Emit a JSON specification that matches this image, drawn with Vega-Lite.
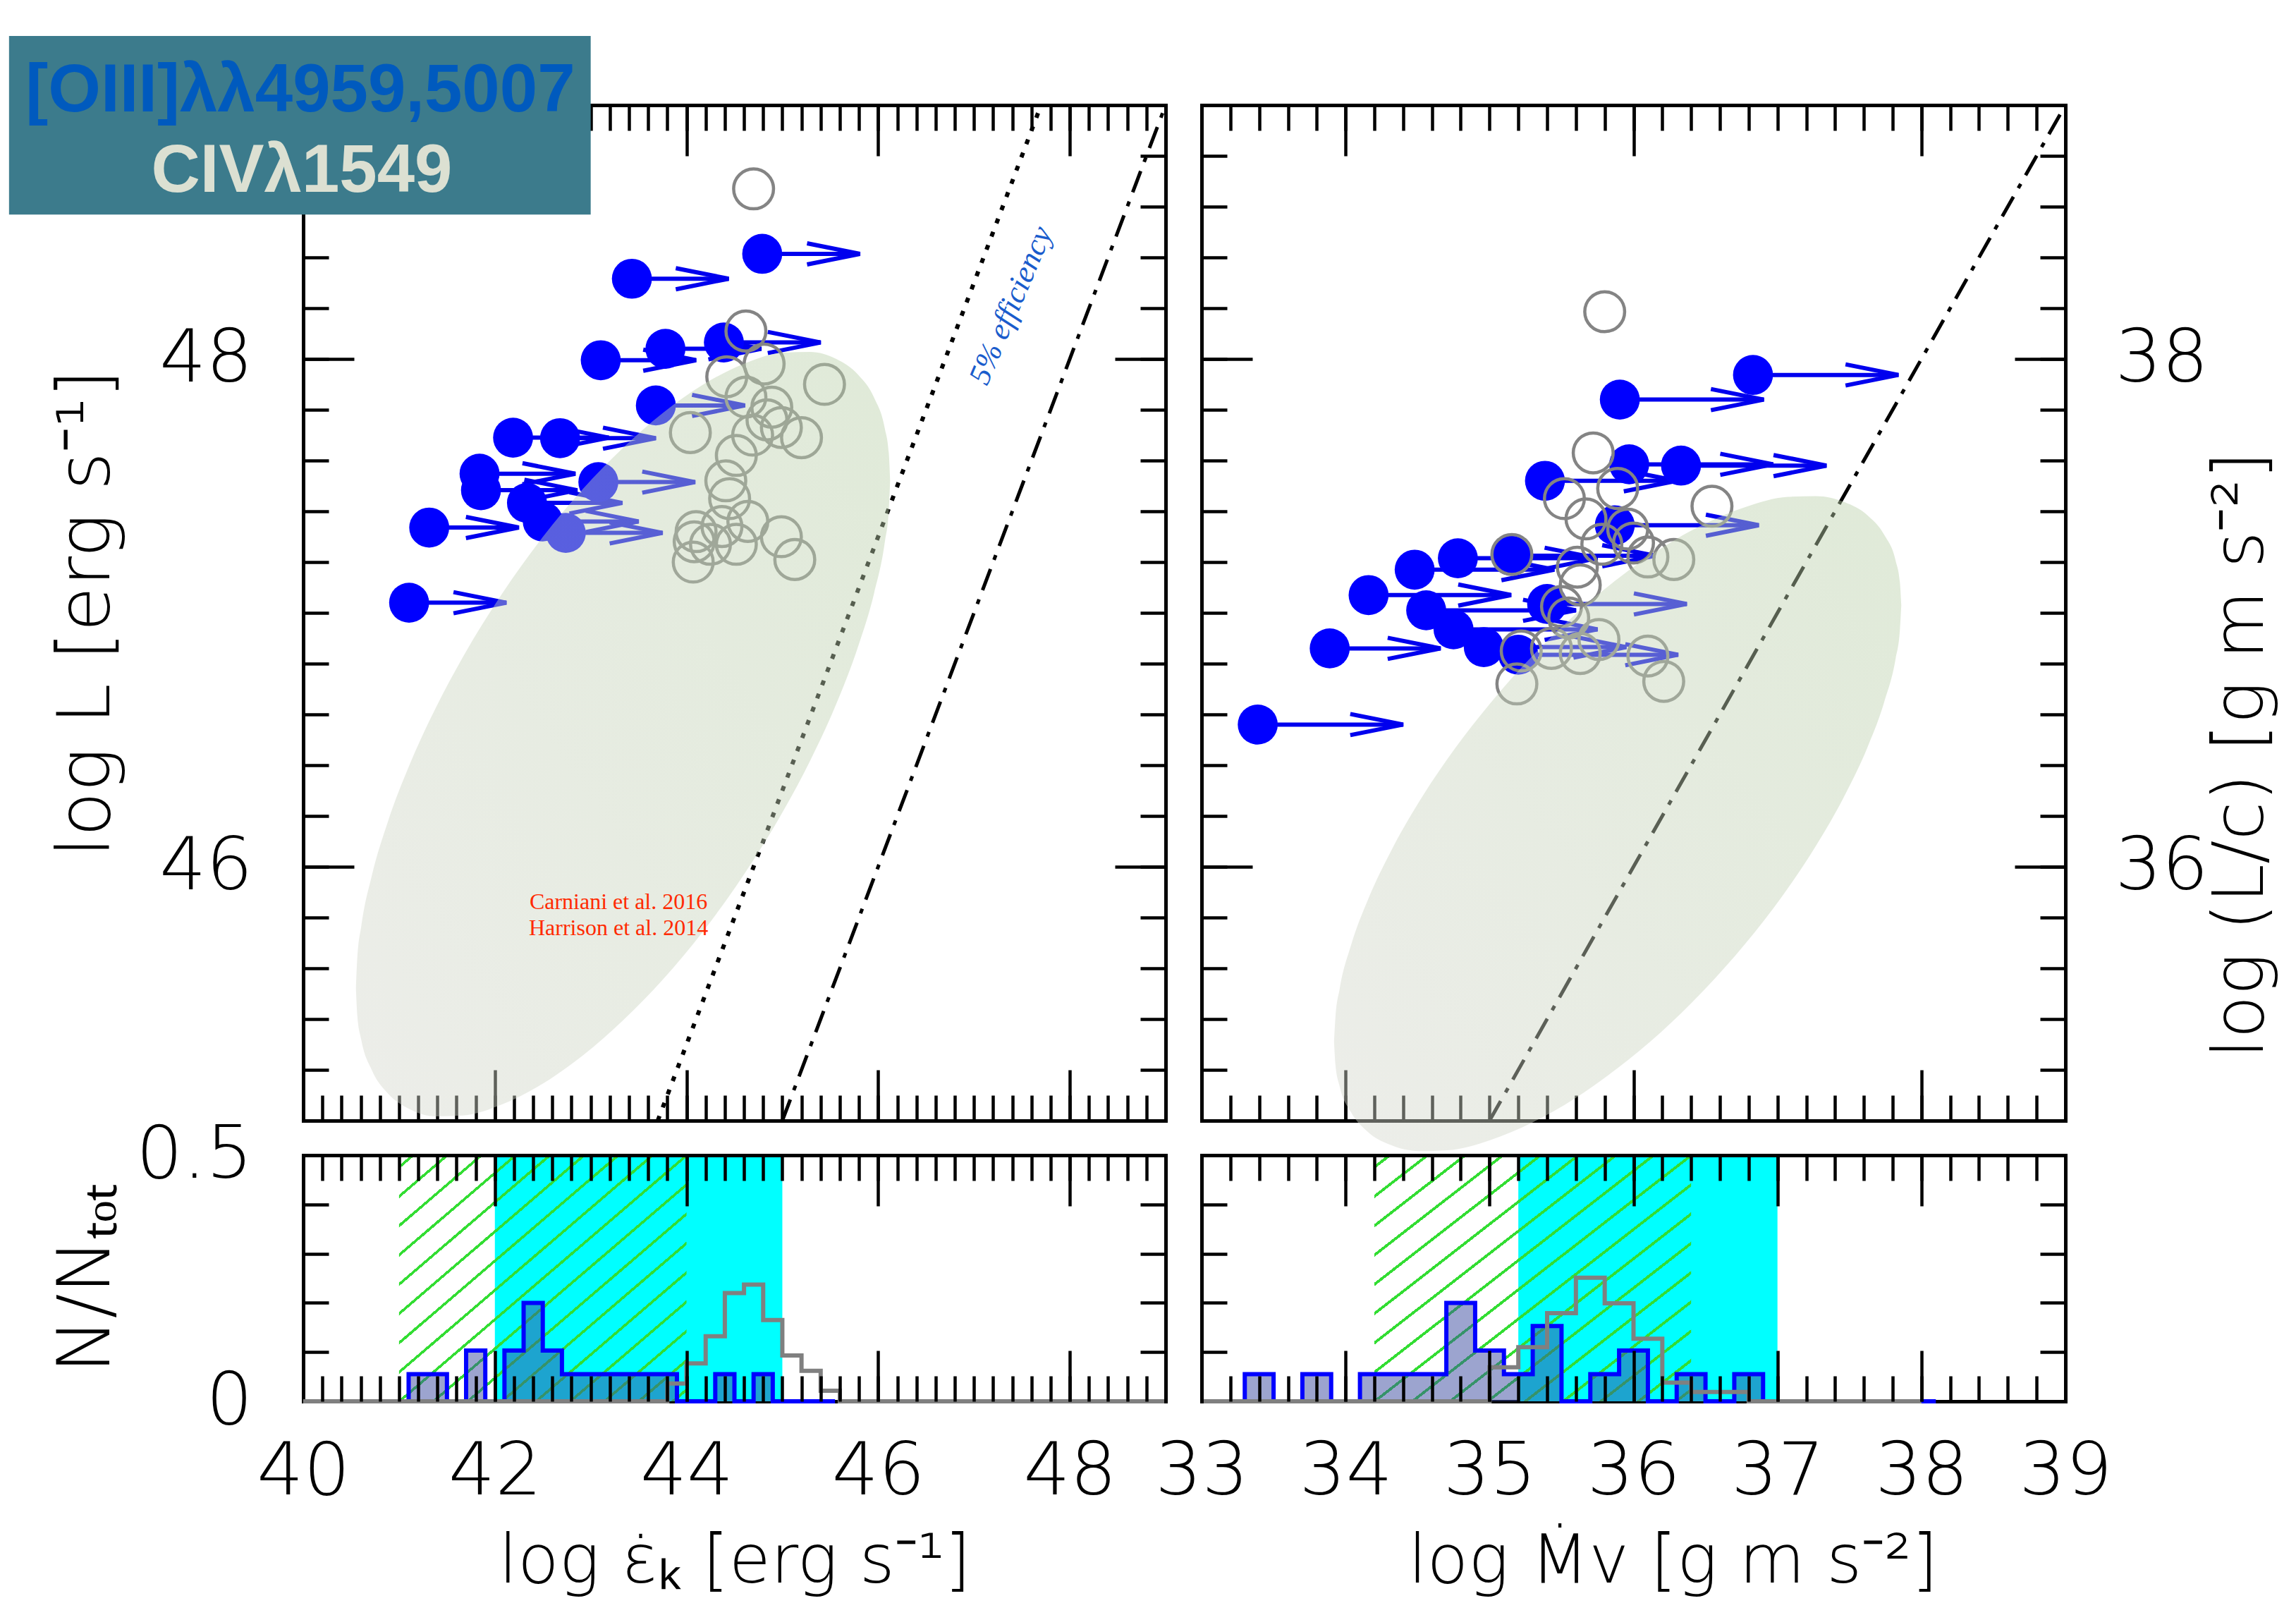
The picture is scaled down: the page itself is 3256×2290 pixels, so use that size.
{
"$schema": "https://vega.github.io/schema/vega-lite/v6.json",
"background": "white",
"padding": {"left": 12, "top": 51, "right": 16, "bottom": 16},
"bounds": "flush",
"columns": 2,
"spacing": {"row": 49, "column": 51},
"config": {
  "view": {"stroke": null},
  "axis": {
    "grid": false, "domainColor": "#000000", "domainWidth": 5, "domainCap": "square",
    "tickColor": "#000000", "tickWidth": 4.5,
    "labelFont": "DejaVu Sans", "labelFontWeight": 200, "labelFontSize": 104, "labelColor": "#000000",
    "labelFlush": false, "labelOverlap": false, "labelBound": false, "labelAngle": 0,
    "titleFont": "DejaVu Sans", "titleFontWeight": 200, "titleFontSize": 104, "titleColor": "#000000"
  }
},
"datasets": {
  "arrowsTL": [
    {"x":43.43,"y":48.316,"x2":44.44},{"x":44.79,"y":48.414,"x2":45.81},{"x":43.105,"y":47.995,"x2":44.1},
    {"x":43.78,"y":48.04,"x2":44.78},{"x":44.39,"y":48.065,"x2":45.4},{"x":43.68,"y":47.817,"x2":44.61},
    {"x":42.19,"y":47.69,"x2":43.19},{"x":42.68,"y":47.688,"x2":43.68},{"x":41.84,"y":47.548,"x2":42.84},
    {"x":41.855,"y":47.483,"x2":42.86},{"x":43.08,"y":47.515,"x2":44.09},{"x":42.335,"y":47.433,"x2":43.33},
    {"x":42.5,"y":47.36,"x2":43.5},{"x":42.74,"y":47.315,"x2":43.75},{"x":41.315,"y":47.336,"x2":42.25},
    {"x":41.105,"y":47.04,"x2":42.12}
  ],
  "greyTL": [
    {"x":44.70,"y":48.67},{"x":44.62,"y":48.11},{"x":44.81,"y":47.98},{"x":44.42,"y":47.93},{"x":45.44,"y":47.90},
    {"x":44.62,"y":47.85},{"x":44.89,"y":47.81},{"x":44.84,"y":47.76},{"x":44.99,"y":47.73},{"x":45.20,"y":47.69},
    {"x":44.04,"y":47.71},{"x":44.69,"y":47.70},{"x":44.52,"y":47.62},{"x":44.41,"y":47.52},{"x":44.45,"y":47.45},
    {"x":44.10,"y":47.32},{"x":44.37,"y":47.34},{"x":44.64,"y":47.36},{"x":44.99,"y":47.30},{"x":45.13,"y":47.21},
    {"x":44.07,"y":47.20},{"x":44.52,"y":47.27},{"x":44.25,"y":47.27},{"x":44.08,"y":47.28}
  ],
  "ellTL": [
    {"x":40.55,"y":45.52,"y2":45.52},{"x":40.564,"y":45.64,"y2":45.415},{"x":40.606,"y":45.767,"y2":45.318},
    {"x":40.717,"y":45.967,"y2":45.198},{"x":40.884,"y":46.178,"y2":45.107},{"x":41.107,"y":46.399,"y2":45.046},
    {"x":41.386,"y":46.628,"y2":45.017},{"x":41.665,"y":46.825,"y2":45.02},{"x":42.083,"y":47.08,"y2":45.065},
    {"x":42.501,"y":47.299,"y2":45.146},{"x":42.919,"y":47.488,"y2":45.257},{"x":43.338,"y":47.65,"y2":45.395},
    {"x":43.756,"y":47.788,"y2":45.557},{"x":44.174,"y":47.899,"y2":45.746},{"x":44.592,"y":47.98,"y2":45.965},
    {"x":45.01,"y":48.025,"y2":46.22},{"x":45.289,"y":48.028,"y2":46.417},{"x":45.567,"y":47.999,"y2":46.645},
    {"x":45.79,"y":47.938,"y2":46.867},{"x":45.958,"y":47.847,"y2":47.078},{"x":46.069,"y":47.727,"y2":47.278},
    {"x":46.111,"y":47.63,"y2":47.405},{"x":46.125,"y":47.52,"y2":47.52}
  ],
  "arrowsTR": [
    {"x":36.83,"y":37.937,"x2":37.84},{"x":35.905,"y":37.84,"x2":36.905},{"x":36.33,"y":37.58,"x2":37.34},
    {"x":35.97,"y":37.585,"x2":36.97},{"x":35.385,"y":37.52,"x2":36.3},{"x":35.87,"y":37.345,"x2":36.87},
    {"x":34.78,"y":37.215,"x2":35.75},{"x":34.48,"y":37.17,"x2":35.45},{"x":34.16,"y":37.07,"x2":35.15},
    {"x":34.56,"y":37.01,"x2":35.6},{"x":35.15,"y":37.225,"x2":36.15},{"x":35.4,"y":37.035,"x2":36.37},
    {"x":34.75,"y":36.935,"x2":35.75},{"x":34.96,"y":36.865,"x2":35.95},{"x":35.2,"y":36.835,"x2":36.31},
    {"x":33.89,"y":36.86,"x2":34.66},{"x":33.39,"y":36.56,"x2":34.4}
  ],
  "greyTR": [
    {"x":35.80,"y":38.186},{"x":35.72,"y":37.63},{"x":35.52,"y":37.45},{"x":35.89,"y":37.49},{"x":35.67,"y":37.37},
    {"x":35.155,"y":37.23},{"x":35.96,"y":37.33},{"x":36.0,"y":37.275},{"x":35.78,"y":37.27},{"x":35.61,"y":37.18},
    {"x":35.63,"y":37.11},{"x":35.50,"y":37.025},{"x":35.55,"y":36.98},{"x":35.76,"y":36.895},{"x":35.63,"y":36.84},
    {"x":35.22,"y":36.85},{"x":35.43,"y":36.86},{"x":35.19,"y":36.72},{"x":36.10,"y":36.83},{"x":36.21,"y":36.73},
    {"x":36.10,"y":37.22},{"x":36.545,"y":37.42},{"x":36.28,"y":37.21}
  ],
  "ellTR": [
    {"x":33.92,"y":35.31,"y2":35.31},{"x":33.93,"y":35.41,"y2":35.218},{"x":33.959,"y":35.519,"y2":35.135},
    {"x":34.038,"y":35.691,"y2":35.033},{"x":34.156,"y":35.871,"y2":34.955},{"x":34.314,"y":36.06,"y2":34.904},
    {"x":34.511,"y":36.256,"y2":34.88},{"x":34.708,"y":36.425,"y2":34.883},{"x":35.004,"y":36.643,"y2":34.923},
    {"x":35.299,"y":36.831,"y2":34.993},{"x":35.595,"y":36.994,"y2":35.088},{"x":35.89,"y":37.134,"y2":35.207},
    {"x":36.186,"y":37.252,"y2":35.346},{"x":36.481,"y":37.347,"y2":35.509},{"x":36.777,"y":37.417,"y2":35.697},
    {"x":37.072,"y":37.457,"y2":35.915},{"x":37.269,"y":37.46,"y2":36.084},{"x":37.466,"y":37.436,"y2":36.28},
    {"x":37.624,"y":37.385,"y2":36.469},{"x":37.742,"y":37.307,"y2":36.65},{"x":37.821,"y":37.205,"y2":36.821},
    {"x":37.85,"y":37.122,"y2":36.93},{"x":37.86,"y":37.03,"y2":37.03}
  ],
  "histBLblue": [
    {"x":41.1,"y":0},{"x":41.1,"y":0.055},{"x":41.5,"y":0},{"x":41.7,"y":0.103},{"x":41.9,"y":0},
    {"x":42.1,"y":0.103},{"x":42.3,"y":0.2},{"x":42.5,"y":0.103},{"x":42.7,"y":0.055},{"x":43.9,"y":0},
    {"x":44.3,"y":0.055},{"x":44.5,"y":0},{"x":44.7,"y":0.055},{"x":44.9,"y":0},{"x":45.55,"y":0}
  ],
  "histBLgrey": [
    {"x":40,"y":0},{"x":43.8,"y":0.036},{"x":44.0,"y":0.077},{"x":44.2,"y":0.132},{"x":44.4,"y":0.22},
    {"x":44.6,"y":0.237},{"x":44.8,"y":0.165},{"x":45.0,"y":0.093},{"x":45.2,"y":0.062},{"x":45.4,"y":0.0215},
    {"x":45.6,"y":0},{"x":49,"y":0}
  ],
  "histBRblue": [
    {"x":33.3,"y":0},{"x":33.3,"y":0.055},{"x":33.5,"y":0},{"x":33.7,"y":0.055},{"x":33.9,"y":0},
    {"x":34.1,"y":0.055},{"x":34.7,"y":0.2},{"x":34.9,"y":0.103},{"x":35.1,"y":0.055},{"x":35.3,"y":0.153},
    {"x":35.5,"y":0},{"x":35.7,"y":0.055},{"x":35.9,"y":0.103},{"x":36.1,"y":0},{"x":36.3,"y":0.055},
    {"x":36.5,"y":0},{"x":36.7,"y":0.055},{"x":36.9,"y":0},{"x":38.1,"y":0}
  ],
  "histBRgrey": [
    {"x":33,"y":0},{"x":35.0,"y":0.069},{"x":35.2,"y":0.11},{"x":35.4,"y":0.179},{"x":35.6,"y":0.251},
    {"x":35.8,"y":0.199},{"x":36.0,"y":0.127},{"x":36.2,"y":0.038},{"x":36.4,"y":0.019},{"x":36.8,"y":0},
    {"x":38.0,"y":0}
  ]
},
"concat": [
{
  "width": 1223, "height": 1440,
  "resolve": {"axis": {"x": "independent", "y": "independent"}},
  "encoding": {
    "x": {"field":"x","type":"quantitative","scale":{"domain":[40,49],"nice":false,"zero":false},"axis":null},
    "y": {"field":"y","type":"quantitative","scale":{"domain":[45,49],"nice":false,"zero":false},"axis":null}
  },
  "layer": [
    {"data":{"values":[{"x":45,"y":45},{"x":49,"y":49}]},
     "mark":{"type":"line","color":"#000000","strokeWidth":5,"strokeDash":[32,14,7,14]},
     "encoding":{
       "x":{"field":"x","type":"quantitative","scale":{"domain":[40,49],"nice":false,"zero":false},
            "axis":{"orient":"bottom","values":[42,44,46,48],"tickSize":-72,"labels":false,"domain":true,"title":null}},
       "y":{"field":"y","type":"quantitative","scale":{"domain":[45,49],"nice":false,"zero":false},
            "axis":{"orient":"left","values":[46,48],"ticks":false,"tickSize":0,"labelPadding":72,"domain":true,"format":"~g",
                    "title":"log L [erg s⁻¹]","titleAngle":270,"titleBaseline":"bottom","titleX":-254}}}},
    {"data":{"values":[{"x":43.7,"y":45},{"x":47.7,"y":49}]},
     "mark":{"type":"line","color":"#000000","strokeWidth":6,"strokeDash":[7,13]},
     "encoding":{
       "x":{"field":"x","type":"quantitative","scale":{"domain":[40,49],"nice":false,"zero":false},
            "axis":{"orient":"bottom","values":[40.2,40.4,40.6,40.8,41,41.2,41.4,41.6,41.8,42,42.2,42.4,42.6,42.8,43,43.2,43.4,43.6,43.8,44,44.2,44.4,44.6,44.8,45,45.2,45.4,45.6,45.8,46,46.2,46.4,46.6,46.8,47,47.2,47.4,47.6,47.8,48,48.2,48.4,48.6,48.8],"tickSize":-36,"labels":false,"domain":false,"title":null}},
       "y":{"field":"y","type":"quantitative","scale":{"domain":[45,49],"nice":false,"zero":false},
            "axis":{"orient":"left","values":[46,48],"tickSize":-72,"labels":false,"domain":false,"title":null}}}},
    {"data":{"name":"arrowsTL"},
     "mark":{"type":"rule","color":"#0000ee","strokeWidth":6},
     "encoding":{
       "x":{"field":"x","type":"quantitative","scale":{"domain":[40,49],"nice":false,"zero":false},
            "axis":{"orient":"top","values":[42,44,46,48],"tickSize":-72,"labels":false,"domain":true,"title":null}},
       "x2":{"field":"x2"},
       "y":{"field":"y","type":"quantitative","scale":{"domain":[45,49],"nice":false,"zero":false},
            "axis":{"orient":"left","values":[45.2,45.4,45.6,45.8,46,46.2,46.4,46.6,46.8,47,47.2,47.4,47.6,47.8,48,48.2,48.4,48.6,48.8],"tickSize":-36,"labels":false,"domain":false,"title":null}}}},
    {"data":{"name":"arrowsTL"},
     "mark":{"type":"point","shape":"M-2,-0.4L0,0L-2,0.4","size":5625,"filled":false,"color":"#0000ee","strokeWidth":6,"opacity":1},
     "encoding":{
       "x":{"field":"x2","type":"quantitative","scale":{"domain":[40,49],"nice":false,"zero":false},
            "axis":{"orient":"top","values":[40.2,40.4,40.6,40.8,41,41.2,41.4,41.6,41.8,42,42.2,42.4,42.6,42.8,43,43.2,43.4,43.6,43.8,44,44.2,44.4,44.6,44.8,45,45.2,45.4,45.6,45.8,46,46.2,46.4,46.6,46.8,47,47.2,47.4,47.6,47.8,48,48.2,48.4,48.6,48.8],"tickSize":-36,"labels":false,"domain":false,"title":null}},
       "y":{"field":"y","type":"quantitative","scale":{"domain":[45,49],"nice":false,"zero":false},
            "axis":{"orient":"right","values":[46,48],"tickSize":-72,"labels":false,"domain":true,"title":null}}}},
    {"data":{"name":"arrowsTL"},
     "mark":{"type":"point","shape":"circle","size":3217,"filled":true,"color":"#0000ff","opacity":1},
     "encoding":{
       "y":{"field":"y","type":"quantitative","scale":{"domain":[45,49],"nice":false,"zero":false},
            "axis":{"orient":"right","values":[45.2,45.4,45.6,45.8,46,46.2,46.4,46.6,46.8,47,47.2,47.4,47.6,47.8,48,48.2,48.4,48.6,48.8],"tickSize":-36,"labels":false,"domain":false,"title":null}}}},
    {"data":{"name":"greyTL"},
     "mark":{"type":"point","shape":"circle","size":3200,"filled":false,"color":"#848484","strokeWidth":4.5,"opacity":1},
     "encoding":{}},
    {"data":{"name":"ellTL"},
     "mark":{"type":"area","interpolate":"monotone","opacity":0.45,
             "color":{"gradient":"linear","x1":0,"y1":1,"x2":1,"y2":0,"stops":[{"offset":0,"color":"#d6d8cf"},{"offset":1,"color":"#b9d0a8"}]}},
     "encoding":{"y2":{"field":"y2"}}},
    {"data":{"values":[{"x":47.39,"y":48.21,"t":"5% efficiency"}]},
     "mark":{"type":"text","font":"Liberation Serif","fontStyle":"italic","fontSize":44,"color":"#1a5ccc","angle":293,"align":"center","baseline":"middle"},
     "encoding":{"text":{"field":"t"}}},
    {"data":{"values":[{"x":43.29,"y":45.833,"t":"Carniani et al. 2016"},{"x":43.29,"y":45.731,"t":"Harrison et al. 2014"}]},
     "mark":{"type":"text","font":"Liberation Serif","fontSize":32,"color":"#ff2a00","align":"center","baseline":"alphabetic"},
     "encoding":{"text":{"field":"t"}}},
    {"data":{"values":[{"x":36.93,"x2":43.0,"y":49.272,"y2":48.569}]},
     "mark":{"type":"rect","color":"#3c7b8c"},
     "encoding":{"x2":{"field":"x2"},"y2":{"field":"y2"}}},
    {"data":{"values":[{"x":39.97,"y":48.975,"t":"[OIII]λλ4959,5007"}]},
     "mark":{"type":"text","font":"Liberation Sans","fontWeight":"bold","fontSize":96,"color":"#005abe","align":"center","baseline":"alphabetic"},
     "encoding":{"text":{"field":"t"}}},
    {"data":{"values":[{"x":39.985,"y":48.658,"t":"CIVλ1549"}]},
     "mark":{"type":"text","font":"Liberation Sans","fontWeight":"bold","fontSize":96,"color":"#dce0d2","align":"center","baseline":"alphabetic"},
     "encoding":{"text":{"field":"t"}}}
  ]
},
{
  "width": 1225, "height": 1440,
  "resolve": {"axis": {"x": "independent", "y": "independent"}},
  "encoding": {
    "x": {"field":"x","type":"quantitative","scale":{"domain":[33,39],"nice":false,"zero":false},"axis":null},
    "y": {"field":"y","type":"quantitative","scale":{"domain":[35,39],"nice":false,"zero":false},"axis":null}
  },
  "layer": [
    {"data":{"values":[{"x":35,"y":35},{"x":39,"y":39}]},
     "mark":{"type":"line","color":"#000000","strokeWidth":5,"strokeDash":[32,14,7,14]},
     "encoding":{
       "x":{"field":"x","type":"quantitative","scale":{"domain":[33,39],"nice":false,"zero":false},
            "axis":{"orient":"bottom","values":[34,36,38],"tickSize":-72,"labels":false,"domain":true,"title":null}},
       "y":{"field":"y","type":"quantitative","scale":{"domain":[35,39],"nice":false,"zero":false},
            "axis":{"orient":"left","values":[36,38],"tickSize":-72,"labels":false,"domain":true,"title":null}}}},
    {"data":{"name":"arrowsTR"},
     "mark":{"type":"rule","color":"#0000ee","strokeWidth":6},
     "encoding":{
       "x":{"field":"x","type":"quantitative","scale":{"domain":[33,39],"nice":false,"zero":false},
            "axis":{"orient":"bottom","values":[33.2,33.4,33.6,33.8,34,34.2,34.4,34.6,34.8,35,35.2,35.4,35.6,35.8,36,36.2,36.4,36.6,36.8,37,37.2,37.4,37.6,37.8,38,38.2,38.4,38.6,38.8],"tickSize":-36,"labels":false,"domain":false,"title":null}},
       "x2":{"field":"x2"},
       "y":{"field":"y","type":"quantitative","scale":{"domain":[35,39],"nice":false,"zero":false},
            "axis":{"orient":"left","values":[35.2,35.4,35.6,35.8,36,36.2,36.4,36.6,36.8,37,37.2,37.4,37.6,37.8,38,38.2,38.4,38.6,38.8],"tickSize":-36,"labels":false,"domain":false,"title":null}}}},
    {"data":{"name":"arrowsTR"},
     "mark":{"type":"point","shape":"M-2,-0.4L0,0L-2,0.4","size":5625,"filled":false,"color":"#0000ee","strokeWidth":6,"opacity":1},
     "encoding":{
       "x":{"field":"x2","type":"quantitative","scale":{"domain":[33,39],"nice":false,"zero":false},
            "axis":{"orient":"top","values":[34,36,38],"tickSize":-72,"labels":false,"domain":true,"title":null}},
       "y":{"field":"y","type":"quantitative","scale":{"domain":[35,39],"nice":false,"zero":false},
            "axis":{"orient":"right","values":[36,38],"ticks":false,"tickSize":0,"labelPadding":70,"domain":true,"format":"~g",
                    "title":"log (L/c) [g m s⁻²]","titleAngle":270,"titleBaseline":"top","titleX":200,"titleY":921,"titleFontSize":100}}}},
    {"data":{"name":"arrowsTR"},
     "mark":{"type":"point","shape":"circle","size":3217,"filled":true,"color":"#0000ff","opacity":1},
     "encoding":{
       "x":{"field":"x","type":"quantitative","scale":{"domain":[33,39],"nice":false,"zero":false},
            "axis":{"orient":"top","values":[33.2,33.4,33.6,33.8,34,34.2,34.4,34.6,34.8,35,35.2,35.4,35.6,35.8,36,36.2,36.4,36.6,36.8,37,37.2,37.4,37.6,37.8,38,38.2,38.4,38.6,38.8],"tickSize":-36,"labels":false,"domain":false,"title":null}},
       "y":{"field":"y","type":"quantitative","scale":{"domain":[35,39],"nice":false,"zero":false},
            "axis":{"orient":"right","values":[36,38],"tickSize":-72,"labels":false,"domain":false,"title":null}}}},
    {"data":{"name":"greyTR"},
     "mark":{"type":"point","shape":"circle","size":3200,"filled":false,"color":"#848484","strokeWidth":4.5,"opacity":1},
     "encoding":{
       "y":{"field":"y","type":"quantitative","scale":{"domain":[35,39],"nice":false,"zero":false},
            "axis":{"orient":"right","values":[35.2,35.4,35.6,35.8,36,36.2,36.4,36.6,36.8,37,37.2,37.4,37.6,37.8,38,38.2,38.4,38.6,38.8],"tickSize":-36,"labels":false,"domain":false,"title":null}}}},
    {"data":{"name":"ellTR"},
     "mark":{"type":"area","interpolate":"monotone","opacity":0.45,
             "color":{"gradient":"linear","x1":0,"y1":1,"x2":1,"y2":0,"stops":[{"offset":0,"color":"#d6d8cf"},{"offset":1,"color":"#b9d0a8"}]}},
     "encoding":{"y2":{"field":"y2"}}}
  ]
},
{
  "width": 1223, "height": 349,
  "resolve": {"axis": {"x": "independent", "y": "independent"}},
  "encoding": {
    "x": {"field":"x","type":"quantitative","scale":{"domain":[40,49],"nice":false,"zero":false},"axis":null},
    "y": {"field":"y","type":"quantitative","scale":{"domain":[0,0.5],"nice":false,"zero":false},"axis":null}
  },
  "layer": [
    {"data":{"values":[{"x":42,"x2":45,"y":0,"y2":0.5}]},
     "mark":{"type":"rect","color":"#00ffff"},
     "encoding":{
       "x":{"field":"x","type":"quantitative","scale":{"domain":[40,49],"nice":false,"zero":false},
            "axis":{"orient":"bottom","values":[40,42,44,46,48],"ticks":false,"tickSize":0,"labelPadding":49,"domain":true,"format":"~g","zindex":0,
                    "title":"log ε̇ₖ [erg s⁻¹]","titleBaseline":"top","titleY":180,"titleFontSize":96}},
       "x2":{"field":"x2"},
       "y":{"field":"y","type":"quantitative","scale":{"domain":[0,0.5],"nice":false,"zero":false},
            "axis":{"orient":"left","values":[0,0.5],"ticks":false,"tickSize":0,"labelPadding":72,"domain":true,"format":"~g","zindex":0,
                    "title":"N/Nₜₒₜ","titleAngle":270,"titleBaseline":"bottom","titleX":-254}},
       "y2":{"field":"y2"}}},
    {"data":{"values":[{"x":41,"x2":44,"y":0,"y2":0.5}]},
     "mark":{"type":"rect","strokeWidth":0,
             "fill":{"gradient":"linear","x1":0,"y1":0,"x2":1,"y2":1,"stops":[
               {"offset":0,"color":"rgba(51,221,51,0)"},
               {"offset":0.021,"color":"rgba(51,221,51,0)"},{"offset":0.021,"color":"#33dd33"},{"offset":0.028,"color":"#33dd33"},{"offset":0.028,"color":"rgba(51,221,51,0)"},
               {"offset":0.0805,"color":"rgba(51,221,51,0)"},{"offset":0.0805,"color":"#33dd33"},{"offset":0.0875,"color":"#33dd33"},{"offset":0.0875,"color":"rgba(51,221,51,0)"},
               {"offset":0.140,"color":"rgba(51,221,51,0)"},{"offset":0.140,"color":"#33dd33"},{"offset":0.147,"color":"#33dd33"},{"offset":0.147,"color":"rgba(51,221,51,0)"},
               {"offset":0.1995,"color":"rgba(51,221,51,0)"},{"offset":0.1995,"color":"#33dd33"},{"offset":0.2065,"color":"#33dd33"},{"offset":0.2065,"color":"rgba(51,221,51,0)"},
               {"offset":0.259,"color":"rgba(51,221,51,0)"},{"offset":0.259,"color":"#33dd33"},{"offset":0.266,"color":"#33dd33"},{"offset":0.266,"color":"rgba(51,221,51,0)"},
               {"offset":0.3185,"color":"rgba(51,221,51,0)"},{"offset":0.3185,"color":"#33dd33"},{"offset":0.3255,"color":"#33dd33"},{"offset":0.3255,"color":"rgba(51,221,51,0)"},
               {"offset":0.378,"color":"rgba(51,221,51,0)"},{"offset":0.378,"color":"#33dd33"},{"offset":0.385,"color":"#33dd33"},{"offset":0.385,"color":"rgba(51,221,51,0)"},
               {"offset":0.4375,"color":"rgba(51,221,51,0)"},{"offset":0.4375,"color":"#33dd33"},{"offset":0.4445,"color":"#33dd33"},{"offset":0.4445,"color":"rgba(51,221,51,0)"},
               {"offset":0.497,"color":"rgba(51,221,51,0)"},{"offset":0.497,"color":"#33dd33"},{"offset":0.504,"color":"#33dd33"},{"offset":0.504,"color":"rgba(51,221,51,0)"},
               {"offset":0.5565,"color":"rgba(51,221,51,0)"},{"offset":0.5565,"color":"#33dd33"},{"offset":0.5635,"color":"#33dd33"},{"offset":0.5635,"color":"rgba(51,221,51,0)"},
               {"offset":0.616,"color":"rgba(51,221,51,0)"},{"offset":0.616,"color":"#33dd33"},{"offset":0.623,"color":"#33dd33"},{"offset":0.623,"color":"rgba(51,221,51,0)"},
               {"offset":0.6755,"color":"rgba(51,221,51,0)"},{"offset":0.6755,"color":"#33dd33"},{"offset":0.6825,"color":"#33dd33"},{"offset":0.6825,"color":"rgba(51,221,51,0)"},
               {"offset":0.735,"color":"rgba(51,221,51,0)"},{"offset":0.735,"color":"#33dd33"},{"offset":0.742,"color":"#33dd33"},{"offset":0.742,"color":"rgba(51,221,51,0)"},
               {"offset":0.7945,"color":"rgba(51,221,51,0)"},{"offset":0.7945,"color":"#33dd33"},{"offset":0.8015,"color":"#33dd33"},{"offset":0.8015,"color":"rgba(51,221,51,0)"},
               {"offset":0.854,"color":"rgba(51,221,51,0)"},{"offset":0.854,"color":"#33dd33"},{"offset":0.861,"color":"#33dd33"},{"offset":0.861,"color":"rgba(51,221,51,0)"},
               {"offset":0.9135,"color":"rgba(51,221,51,0)"},{"offset":0.9135,"color":"#33dd33"},{"offset":0.9205,"color":"#33dd33"},{"offset":0.9205,"color":"rgba(51,221,51,0)"},
               {"offset":0.973,"color":"rgba(51,221,51,0)"},{"offset":0.973,"color":"#33dd33"},{"offset":0.980,"color":"#33dd33"},{"offset":0.980,"color":"rgba(51,221,51,0)"},
               {"offset":1,"color":"rgba(51,221,51,0)"}]}},
     "encoding":{
       "x":{"field":"x","type":"quantitative","scale":{"domain":[40,49],"nice":false,"zero":false},
            "axis":{"orient":"bottom","values":[42,44,46,48],"tickSize":-72,"labels":false,"domain":false,"title":null,"zindex":1}},
       "x2":{"field":"x2"},
       "y":{"field":"y","type":"quantitative","scale":{"domain":[0,0.5],"nice":false,"zero":false},
            "axis":{"orient":"left","values":[0.1,0.2,0.3,0.4],"tickSize":-36,"labels":false,"domain":false,"title":null,"zindex":1}},
       "y2":{"field":"y2"}}},
    {"data":{"name":"histBLblue"},
     "mark":{"type":"area","interpolate":"step-after","color":"#3a4aa0","opacity":0.5},
     "encoding":{
       "x":{"field":"x","type":"quantitative","scale":{"domain":[40,49],"nice":false,"zero":false},
            "axis":{"orient":"bottom","values":[40.2,40.4,40.6,40.8,41,41.2,41.4,41.6,41.8,42,42.2,42.4,42.6,42.8,43,43.2,43.4,43.6,43.8,44,44.2,44.4,44.6,44.8,45,45.2,45.4,45.6,45.8,46,46.2,46.4,46.6,46.8,47,47.2,47.4,47.6,47.8,48,48.2,48.4,48.6,48.8],"tickSize":-36,"labels":false,"domain":false,"title":null,"zindex":1}},
       "y":{"field":"y","type":"quantitative","stack":null,"scale":{"domain":[0,0.5],"nice":false,"zero":false},
            "axis":{"orient":"right","values":[0.1,0.2,0.3,0.4],"tickSize":-36,"labels":false,"domain":true,"title":null,"zindex":1}}}},
    {"data":{"name":"histBLblue"},
     "mark":{"type":"line","interpolate":"step-after","color":"#0000ff","strokeWidth":6,"strokeJoin":"miter"},
     "encoding":{
       "x":{"field":"x","type":"quantitative","scale":{"domain":[40,49],"nice":false,"zero":false},
            "axis":{"orient":"top","values":[42,44,46,48],"tickSize":-72,"labels":false,"domain":true,"title":null,"zindex":1}},
       "order":{"value":null}}},
    {"data":{"name":"histBLgrey"},
     "mark":{"type":"line","interpolate":"step-after","color":"#808080","strokeWidth":6,"strokeJoin":"miter"},
     "encoding":{
       "x":{"field":"x","type":"quantitative","scale":{"domain":[40,49],"nice":false,"zero":false},
            "axis":{"orient":"top","values":[40.2,40.4,40.6,40.8,41,41.2,41.4,41.6,41.8,42,42.2,42.4,42.6,42.8,43,43.2,43.4,43.6,43.8,44,44.2,44.4,44.6,44.8,45,45.2,45.4,45.6,45.8,46,46.2,46.4,46.6,46.8,47,47.2,47.4,47.6,47.8,48,48.2,48.4,48.6,48.8],"tickSize":-36,"labels":false,"domain":false,"title":null,"zindex":1}},
       "order":{"value":null}}}
  ]
},
{
  "width": 1225, "height": 349,
  "resolve": {"axis": {"x": "independent", "y": "independent"}},
  "encoding": {
    "x": {"field":"x","type":"quantitative","scale":{"domain":[33,39],"nice":false,"zero":false},"axis":null},
    "y": {"field":"y","type":"quantitative","scale":{"domain":[0,0.5],"nice":false,"zero":false},"axis":null}
  },
  "layer": [
    {"data":{"values":[{"x":35.2,"x2":37.0,"y":0,"y2":0.5}]},
     "mark":{"type":"rect","color":"#00ffff"},
     "encoding":{
       "x":{"field":"x","type":"quantitative","scale":{"domain":[33,39],"nice":false,"zero":false},
            "axis":{"orient":"bottom","values":[33,34,35,36,37,38,39],"ticks":false,"tickSize":0,"labelPadding":49,"domain":true,"format":"~g","zindex":0,
                    "title":"log Ṁv [g m s⁻²]","titleBaseline":"top","titleY":180,"titleX":668,"titleFontSize":96}},
       "x2":{"field":"x2"},
       "y":{"field":"y","type":"quantitative","scale":{"domain":[0,0.5],"nice":false,"zero":false},
            "axis":{"orient":"left","values":[0.1,0.2,0.3,0.4],"tickSize":-36,"labels":false,"domain":true,"title":null,"zindex":1}},
       "y2":{"field":"y2"}}},
    {"data":{"values":[{"x":34.2,"x2":36.4,"y":0,"y2":0.5}]},
     "mark":{"type":"rect","strokeWidth":0,
             "fill":{"gradient":"linear","x1":0,"y1":0,"x2":1,"y2":1,"stops":[
               {"offset":0,"color":"rgba(51,221,51,0)"},
               {"offset":0.021,"color":"rgba(51,221,51,0)"},{"offset":0.021,"color":"#33dd33"},{"offset":0.028,"color":"#33dd33"},{"offset":0.028,"color":"rgba(51,221,51,0)"},
               {"offset":0.0805,"color":"rgba(51,221,51,0)"},{"offset":0.0805,"color":"#33dd33"},{"offset":0.0875,"color":"#33dd33"},{"offset":0.0875,"color":"rgba(51,221,51,0)"},
               {"offset":0.140,"color":"rgba(51,221,51,0)"},{"offset":0.140,"color":"#33dd33"},{"offset":0.147,"color":"#33dd33"},{"offset":0.147,"color":"rgba(51,221,51,0)"},
               {"offset":0.1995,"color":"rgba(51,221,51,0)"},{"offset":0.1995,"color":"#33dd33"},{"offset":0.2065,"color":"#33dd33"},{"offset":0.2065,"color":"rgba(51,221,51,0)"},
               {"offset":0.259,"color":"rgba(51,221,51,0)"},{"offset":0.259,"color":"#33dd33"},{"offset":0.266,"color":"#33dd33"},{"offset":0.266,"color":"rgba(51,221,51,0)"},
               {"offset":0.3185,"color":"rgba(51,221,51,0)"},{"offset":0.3185,"color":"#33dd33"},{"offset":0.3255,"color":"#33dd33"},{"offset":0.3255,"color":"rgba(51,221,51,0)"},
               {"offset":0.378,"color":"rgba(51,221,51,0)"},{"offset":0.378,"color":"#33dd33"},{"offset":0.385,"color":"#33dd33"},{"offset":0.385,"color":"rgba(51,221,51,0)"},
               {"offset":0.4375,"color":"rgba(51,221,51,0)"},{"offset":0.4375,"color":"#33dd33"},{"offset":0.4445,"color":"#33dd33"},{"offset":0.4445,"color":"rgba(51,221,51,0)"},
               {"offset":0.497,"color":"rgba(51,221,51,0)"},{"offset":0.497,"color":"#33dd33"},{"offset":0.504,"color":"#33dd33"},{"offset":0.504,"color":"rgba(51,221,51,0)"},
               {"offset":0.5565,"color":"rgba(51,221,51,0)"},{"offset":0.5565,"color":"#33dd33"},{"offset":0.5635,"color":"#33dd33"},{"offset":0.5635,"color":"rgba(51,221,51,0)"},
               {"offset":0.616,"color":"rgba(51,221,51,0)"},{"offset":0.616,"color":"#33dd33"},{"offset":0.623,"color":"#33dd33"},{"offset":0.623,"color":"rgba(51,221,51,0)"},
               {"offset":0.6755,"color":"rgba(51,221,51,0)"},{"offset":0.6755,"color":"#33dd33"},{"offset":0.6825,"color":"#33dd33"},{"offset":0.6825,"color":"rgba(51,221,51,0)"},
               {"offset":0.735,"color":"rgba(51,221,51,0)"},{"offset":0.735,"color":"#33dd33"},{"offset":0.742,"color":"#33dd33"},{"offset":0.742,"color":"rgba(51,221,51,0)"},
               {"offset":0.7945,"color":"rgba(51,221,51,0)"},{"offset":0.7945,"color":"#33dd33"},{"offset":0.8015,"color":"#33dd33"},{"offset":0.8015,"color":"rgba(51,221,51,0)"},
               {"offset":0.854,"color":"rgba(51,221,51,0)"},{"offset":0.854,"color":"#33dd33"},{"offset":0.861,"color":"#33dd33"},{"offset":0.861,"color":"rgba(51,221,51,0)"},
               {"offset":0.9135,"color":"rgba(51,221,51,0)"},{"offset":0.9135,"color":"#33dd33"},{"offset":0.9205,"color":"#33dd33"},{"offset":0.9205,"color":"rgba(51,221,51,0)"},
               {"offset":0.973,"color":"rgba(51,221,51,0)"},{"offset":0.973,"color":"#33dd33"},{"offset":0.980,"color":"#33dd33"},{"offset":0.980,"color":"rgba(51,221,51,0)"},
               {"offset":1,"color":"rgba(51,221,51,0)"}]}},
     "encoding":{
       "x":{"field":"x","type":"quantitative","scale":{"domain":[33,39],"nice":false,"zero":false},
            "axis":{"orient":"bottom","values":[34,35,36,37,38],"tickSize":-72,"labels":false,"domain":false,"title":null,"zindex":1}},
       "x2":{"field":"x2"},
       "y":{"field":"y","type":"quantitative","scale":{"domain":[0,0.5],"nice":false,"zero":false},
            "axis":{"orient":"right","values":[0.1,0.2,0.3,0.4],"tickSize":-36,"labels":false,"domain":true,"title":null,"zindex":1}},
       "y2":{"field":"y2"}}},
    {"data":{"name":"histBRblue"},
     "mark":{"type":"area","interpolate":"step-after","color":"#3a4aa0","opacity":0.5},
     "encoding":{
       "x":{"field":"x","type":"quantitative","scale":{"domain":[33,39],"nice":false,"zero":false},
            "axis":{"orient":"bottom","values":[33.2,33.4,33.6,33.8,34,34.2,34.4,34.6,34.8,35,35.2,35.4,35.6,35.8,36,36.2,36.4,36.6,36.8,37,37.2,37.4,37.6,37.8,38,38.2,38.4,38.6,38.8],"tickSize":-36,"labels":false,"domain":false,"title":null,"zindex":1}},
       "y":{"field":"y","type":"quantitative","stack":null,"scale":{"domain":[0,0.5],"nice":false,"zero":false}}}},
    {"data":{"name":"histBRblue"},
     "mark":{"type":"line","interpolate":"step-after","color":"#0000ff","strokeWidth":6,"strokeJoin":"miter"},
     "encoding":{
       "x":{"field":"x","type":"quantitative","scale":{"domain":[33,39],"nice":false,"zero":false},
            "axis":{"orient":"top","values":[34,35,36,37,38],"tickSize":-72,"labels":false,"domain":true,"title":null,"zindex":1}},
       "order":{"value":null}}},
    {"data":{"name":"histBRgrey"},
     "mark":{"type":"line","interpolate":"step-after","color":"#808080","strokeWidth":6,"strokeJoin":"miter"},
     "encoding":{
       "x":{"field":"x","type":"quantitative","scale":{"domain":[33,39],"nice":false,"zero":false},
            "axis":{"orient":"top","values":[33.2,33.4,33.6,33.8,34,34.2,34.4,34.6,34.8,35,35.2,35.4,35.6,35.8,36,36.2,36.4,36.6,36.8,37,37.2,37.4,37.6,37.8,38,38.2,38.4,38.6,38.8],"tickSize":-36,"labels":false,"domain":false,"title":null,"zindex":1}},
       "order":{"value":null}}}
  ]
}
]
}
